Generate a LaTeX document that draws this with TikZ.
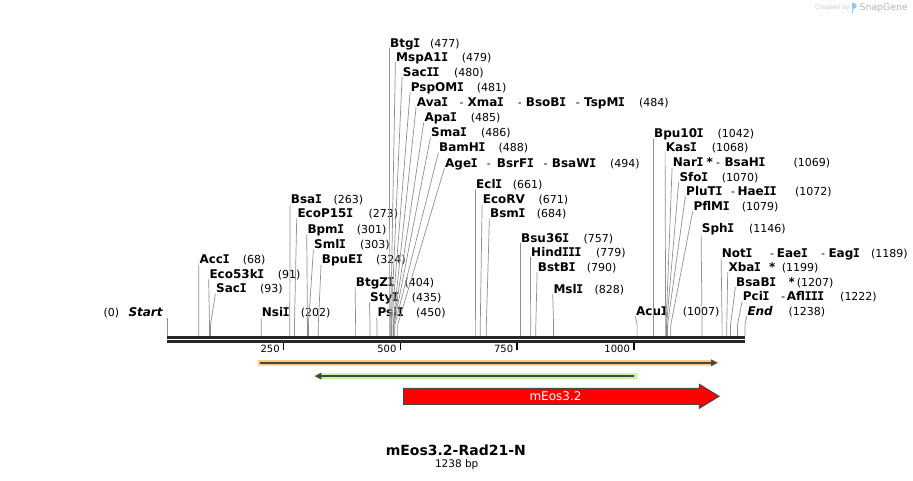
\documentclass[tikz,border=0pt]{standalone}
\usepackage{fontspec}
\setmainfont{DejaVu Sans}
\newfontfamily\monoIfont{DejaVu Sans Mono}
\newcommand{\sI}{{\monoIfont\kern-0.5pt I\kern-0.5pt}}
\definecolor{bb}{HTML}{262626}
\definecolor{cutgray}{HTML}{8F8F8F}
\definecolor{orfill}{HTML}{F9CB7C}
\definecolor{grfill}{HTML}{C2F59A}
\definecolor{featline}{HTML}{464646}
\definecolor{logoblue}{HTML}{8CC8F0}
\definecolor{credgray}{HTML}{B4B4B4}
\newcommand{\enz}[6]{%
  \coordinate (c#1) at ({167+#2*0.46688},336);
  \coordinate (k#1) at ({167+#2*0.46688},325);
  \node[enzname] (n#1) at (#3,{#4+4.4}) {#5};
  \node[enznum] (m#1) at (#6,{#4+4.4}) {(#2)};
  \draw[cutline] (c#1) -- (k#1) -- ([xshift=-0.6pt,yshift=-1pt]n#1.base west);
}
\newcommand{\seg}[5]{\node[#5] (#1) at (#2,{#3+4.4}) {#4};}
\begin{document}
\begin{tikzpicture}[x=1pt,y=-1pt,
  enzname/.style={anchor=base west, inner sep=0pt, font=\fontsize{12}{14}\selectfont\bfseries},
  enznum/.style={anchor=base west, inner sep=0pt, font=\fontsize{11}{13}\selectfont},
  enzdash/.style={anchor=base west, inner sep=0pt, font=\fontsize{11}{13}\selectfont},
  cutline/.style={draw=cutgray, line width=0.7pt},
  backbone/.style={draw=bb, line width=2.7pt},
  tickmark/.style={draw=black, line width=1.5pt},
  ticklab/.style={anchor=east, inner sep=0pt, font=\fontsize{10}{12}\selectfont},
]
\useasboundingbox (0,0) rectangle (913,481);

% cut sites
\coordinate (cStart) at (167,336);
\coordinate (tStart) at (167,318);
\draw[cutline] (cStart) -- (tStart);
\node[enznum] (zero) at (103.3,316.7) {(0)};
\node[enzname, font=\fontsize{12}{14}\selectfont\bfseries\itshape] (startlab) at (128.3,316.7) {Start};

\enz{AccI}{68}{199.3}{259.3}{Acc\sI}{242.7}
\enz{Eco53kI}{91}{209.3}{274}{Eco53k\sI}{277.7}
\enz{SacI}{93}{216}{288.3}{Sac\sI}{260}
\enz{NsiI}{202}{261.7}{312.3}{Nsi\sI}{300.7}
\enz{BsaI}{263}{290.7}{199}{Bsa\sI}{333.3}
\enz{EcoP15I}{273}{297.3}{213.3}{EcoP15\sI}{368.3}
\enz{BpmI}{301}{307.3}{229.3}{Bpm\sI}{356.7}
\enz{SmlI}{303}{314}{244}{Sml\sI}{360}
\enz{BpuEI}{324}{321.7}{259.3}{BpuE\sI}{376}
\enz{BtgZI}{404}{355.7}{281.7}{BtgZ\sI}{404.3}
\enz{StyI}{435}{370}{297.3}{Sty\sI}{411.7}
\enz{PsiI}{450}{377.3}{312.3}{Psi\sI}{416}
\enz{BtgI}{477}{390}{42.7}{Btg\sI}{430}
\enz{MspA1I}{479}{396}{56.7}{MspA1\sI}{461.7}
\enz{SacII}{480}{402.7}{71.7}{Sac\sI\sI}{454}
\enz{PspOMI}{481}{410.7}{86.7}{PspOM\sI}{476.7}
\enz{AvaI}{484}{416.7}{101.7}{Ava\sI}{639}
\seg{AvaIa}{459.3}{101.7}{-}{enzdash}
\seg{XmaI}{467.3}{101.7}{Xma\sI}{enzname}
\seg{AvaIb}{517.7}{101.7}{-}{enzdash}
\seg{BsoBI}{525.7}{101.7}{BsoB\sI}{enzname}
\seg{AvaIc}{575.7}{101.7}{-}{enzdash}
\seg{TspMI}{584}{101.7}{TspM\sI}{enzname}
\enz{ApaI}{485}{424.3}{117.3}{Apa\sI}{470.7}
\enz{SmaI}{486}{431}{132.3}{Sma\sI}{481}
\enz{BamHI}{488}{439}{147.3}{BamH\sI}{498.3}
\enz{AgeI}{494}{445}{162.7}{Age\sI}{610}
\seg{AgeIa}{486.7}{162.7}{-}{enzdash}
\seg{BsrFI}{496.7}{162.7}{BsrF\sI}{enzname}
\seg{AgeIb}{543.3}{162.7}{-}{enzdash}
\seg{BsaWI}{551.7}{162.7}{BsaW\sI}{enzname}
\enz{EclI}{661}{476}{184}{Ecl\sI}{512.7}
\enz{EcoRV}{671}{482.7}{199.3}{EcoRV}{538.3}
\enz{BsmI}{684}{490}{213.3}{Bsm\sI}{536.7}
\enz{Bsu36I}{757}{521}{237.7}{Bsu36\sI}{583.3}
\enz{HindIII}{779}{531}{251.7}{Hind\sI\sI\sI}{596}
\enz{BstBI}{790}{537.7}{266.7}{BstB\sI}{586.7}
\enz{MslI}{828}{553.3}{289}{Msl\sI}{594.3}
\enz{AcuI}{1007}{636}{311}{Acu\sI}{682.7}
\enz{Bpu10I}{1042}{654}{133.3}{Bpu10\sI}{717.3}
\enz{KasI}{1068}{665.7}{147.3}{Kas\sI}{711.7}
\enz{NarI}{1069}{672.7}{162.3}{Nar\sI}{793.3}
\seg{NarIs}{706.5}{162.3}{*}{enzname}
\seg{NarIa}{716}{162.3}{-}{enzdash}
\seg{BsaHI}{724.3}{162.3}{BsaH\sI}{enzname}
\enz{SfoI}{1070}{679.3}{176.7}{Sfo\sI}{721.7}
\enz{PluTI}{1072}{686}{191}{PluT\sI}{795}
\seg{PluTIa}{731}{191}{-}{enzdash}
\seg{HaeII}{737.3}{191}{Hae\sI\sI}{enzname}
\enz{PflMI}{1079}{693.3}{206}{PflM\sI}{741.7}
\enz{SphI}{1146}{701.7}{228.3}{Sph\sI}{749}
\enz{NotI}{1189}{721.7}{252.7}{Not\sI}{871}
\seg{NotIa}{770}{252.7}{-}{enzdash}
\seg{EaeI}{776.7}{252.7}{Eae\sI}{enzname}
\seg{NotIb}{821}{252.7}{-}{enzdash}
\seg{EagI}{828.3}{252.7}{Eag\sI}{enzname}
\enz{XbaI}{1199}{728.3}{266.7}{Xba\sI}{781.7}
\seg{XbaIs}{769}{266.7}{*}{enzname}
\enz{BsaBI}{1207}{736}{281.7}{BsaB\sI}{796.7}
\seg{BsaBIs}{788.5}{281.7}{*}{enzname}
\enz{PciI}{1222}{742.7}{296}{Pci\sI}{840}
\seg{PciIa}{781}{296}{-}{enzdash}
\seg{AflIII}{786.7}{296}{Afl\sI\sI\sI}{enzname}
\enz{End}{1238}{747.3}{310.7}{\textit{End}}{788.3}

% backbone
\coordinate (bbA1) at (167,337.3);
\coordinate (bbB1) at (745,337.3);
\coordinate (bbA2) at (167,341.6);
\coordinate (bbB2) at (745,341.6);
\draw[backbone] (bbA1) -- (bbB1);
\draw[backbone] (bbA2) -- (bbB2);

% ticks
\foreach \p/\n in {250/t250,500/t500,750/t750,1000/t1000}{
  \coordinate (\n a) at ({167+\p*0.46688},343);
  \coordinate (\n b) at ({167+\p*0.46688},349.5);
  \draw[tickmark] (\n a) -- (\n b);
  \node[ticklab] (\n lab) at ({167+\p*0.46688-3.8},349) {\p};
}

% features
\fill[orfill] (258,360) -- (713,360) -- (719.3,362.8) -- (713,365.6) -- (258,365.6) -- cycle;
\draw[featline, line width=2pt] (260,362.8) -- (712,362.8);
\fill[featline] (711,359.3) -- (717.3,362.8) -- (711,366.3) -- cycle;

\fill[grfill] (313,376.1) -- (319,373.3) -- (637,373.3) -- (637,379) -- (319,379) -- cycle;
\draw[featline, line width=2pt] (320,376.1) -- (634,376.1);
\fill[featline] (321.3,372.6) -- (315,376.1) -- (321.3,379.6) -- cycle;

\draw[fill=red, draw=featline, line width=1pt, line join=miter]
  (403.5,388.3) -- (699.3,388.3) -- (699.3,384.3) -- (719,396.3) -- (699.3,408.3) -- (699.3,404.3) -- (403.5,404.3) -- cycle;
\node[text=white, inner sep=0pt, font=\fontsize{12}{14}\selectfont] (mEos) at (555.5,396.3) {mEos3.2};

% title
\node[inner sep=0pt, font=\fontsize{14}{16}\selectfont\bfseries] (title) at (455.8,450.7) {mEos3.2-Rad21-N};
\node[inner sep=0pt, font=\fontsize{10.5}{12}\selectfont] (bp) at (456.7,465) {1238 bp};

% credit
\node[anchor=west, inner sep=0pt, text=credgray!70, font=\fontsize{6.3}{7}\selectfont] (created) at (815,8) {Created by};
\fill[logoblue] (851.5,3) rectangle (853.3,13.5);
\fill[logoblue] (853.3,3) .. controls (858,3) and (858,9) .. (853.3,9) -- cycle;
\node[anchor=west, inner sep=0pt, text=credgray, font=\fontsize{9.3}{11}\selectfont] (snapgene) at (859.5,8) {SnapGene};
\end{tikzpicture}
\end{document}
